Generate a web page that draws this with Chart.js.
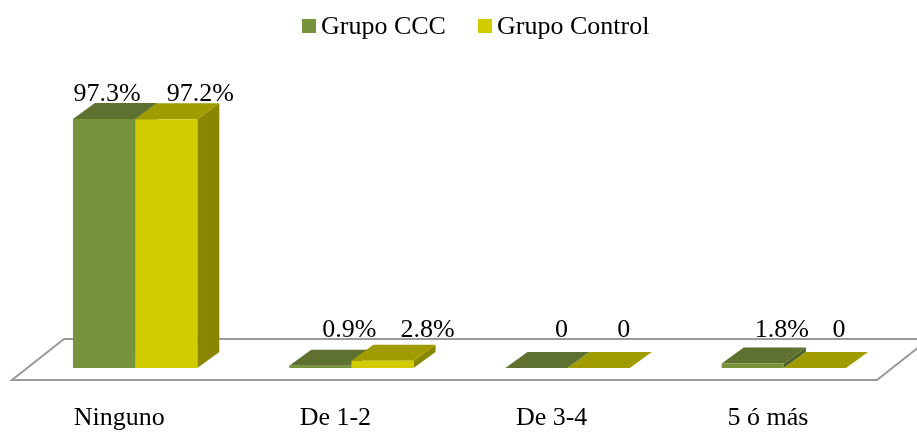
<!DOCTYPE html>
<html>
<head>
<meta charset="utf-8">
<script src="https://cdn.jsdelivr.net/npm/chart.js@4/dist/chart.umd.min.js"></script>
<style>
  html, body { margin: 0; padding: 0; background: #ffffff; }
  #wrap { width: 917px; height: 433px; position: relative; }
</style>
</head>
<body>
<div id="wrap"><canvas id="chart"></canvas></div>
<script>
// Categories and values (percent of each group)
const categories = ['Ninguno', 'De 1-2', 'De 3-4', '5 ó más'];
const grupoCCC = [97.3, 0.9, 0, 1.8];
const grupoControl = [97.2, 2.8, 0, 0];
const seriesNames = ['Grupo CCC', 'Grupo Control'];

const FONT = "'Liberation Serif', 'Times New Roman', serif";

// Face colours for the pseudo-3D columns: front, top, right side
const palette = [
  { front: '#77933C', top: '#5E7131', side: '#4F6228' },
  { front: '#D0CC00', top: '#A09C00', side: '#8A8600' }
];

// Projection of the depth axis (pixels per full column depth)
const DEPTH = { x: 22, y: -16 };
// Floor corners relative to the column baseline plane
const FLOOR_FRONT = { x: -15, y: 12 };
const FLOOR_BACK = { x: 37, y: -29 };
// Horizontal nudges of the value labels, per series and category
const labelShift = [
  [3, 29, 25, 29],
  [34, 45, 25, 24]
];
// Legend key positions (left edge of each colour square)
const legendKeyX = [302, 478];

function fmt(v) {
  return v === 0 ? '0' : v.toFixed(1) + '%';
}

function poly(ctx, pts, fill) {
  ctx.beginPath();
  ctx.moveTo(pts[0][0], pts[0][1]);
  for (let i = 1; i < pts.length; i++) ctx.lineTo(pts[i][0], pts[i][1]);
  ctx.closePath();
  ctx.fillStyle = fill;
  ctx.fill();
}

const threeD = {
  id: 'threeD',
  beforeDatasetsDraw(chart) {
    const ctx = chart.ctx;
    const area = chart.chartArea;
    const y0 = chart.scales.y.getPixelForValue(0);

    // floor outline
    ctx.save();
    ctx.strokeStyle = '#9A9A9A';
    ctx.lineWidth = 2;
    ctx.beginPath();
    ctx.moveTo(area.left + FLOOR_FRONT.x, y0 + FLOOR_FRONT.y);
    ctx.lineTo(area.right + FLOOR_FRONT.x, y0 + FLOOR_FRONT.y);
    ctx.lineTo(area.right + FLOOR_BACK.x, y0 + FLOOR_BACK.y);
    ctx.lineTo(area.left + FLOOR_BACK.x, y0 + FLOOR_BACK.y);
    ctx.closePath();
    ctx.stroke();
    ctx.restore();

    // top and side faces, drawn behind the front faces
    ctx.save();
    const n = chart.data.labels.length;
    for (let i = 0; i < n; i++) {
      chart.data.datasets.forEach((ds, d) => {
        const bar = chart.getDatasetMeta(d).data[i];
        const p = bar.getProps(['x', 'y', 'base', 'width'], true);
        const l = p.x - p.width / 2, r = p.x + p.width / 2;
        const t = p.y, b = p.base;
        const c = palette[d];
        poly(ctx, [[r, t], [r + DEPTH.x, t + DEPTH.y], [r + DEPTH.x, b + DEPTH.y], [r, b]], c.side);
        poly(ctx, [[l, t], [r, t], [r + DEPTH.x, t + DEPTH.y], [l + DEPTH.x, t + DEPTH.y]], c.top);
      });
    }
    ctx.restore();
  },
  afterDatasetsDraw(chart) {
    const ctx = chart.ctx;
    const y0 = chart.scales.y.getPixelForValue(0);
    const limit = y0 + FLOOR_BACK.y - 2;
    ctx.save();
    ctx.font = '26px ' + FONT;
    ctx.fillStyle = '#000000';
    ctx.textAlign = 'center';
    ctx.textBaseline = 'alphabetic';
    chart.data.datasets.forEach((ds, d) => {
      chart.getDatasetMeta(d).data.forEach((bar, i) => {
        const p = bar.getProps(['x', 'y'], true);
        const ty = Math.min(p.y - 18, limit);
        ctx.fillText(fmt(ds.data[i]), p.x + labelShift[d][i], ty);
      });
    });
    ctx.restore();
  },
  afterDraw(chart) {
    // legend row
    const ctx = chart.ctx;
    ctx.save();
    ctx.font = '26px ' + FONT;
    ctx.textBaseline = 'alphabetic';
    ctx.textAlign = 'left';
    chart.data.datasets.forEach((ds, d) => {
      const x = legendKeyX[d];
      ctx.fillStyle = palette[d].front;
      ctx.fillRect(x, 19, 14, 14);
      ctx.fillStyle = '#000000';
      ctx.fillText(ds.label, x + 19, 34);
    });
    ctx.restore();
  }
};

new Chart(document.getElementById('chart'), {
  type: 'bar',
  data: {
    labels: categories,
    datasets: [
      {
        label: seriesNames[0],
        data: grupoCCC,
        backgroundColor: palette[0].front,
        borderWidth: 0,
        barPercentage: 1,
        categoryPercentage: 0.575
      },
      {
        label: seriesNames[1],
        data: grupoControl,
        backgroundColor: palette[1].front,
        borderWidth: 0,
        barPercentage: 1,
        categoryPercentage: 0.575
      }
    ]
  },
  options: {
    responsive: true,
    maintainAspectRatio: false,
    animation: false,
    layout: { padding: { left: 27, right: 25, top: 112, bottom: 0 } },
    plugins: {
      legend: { display: false },
      tooltip: { enabled: false }
    },
    scales: {
      x: {
        grid: { display: false, drawTicks: false },
        border: { display: false },
        ticks: {
          font: { family: FONT, size: 26 },
          color: '#000000',
          padding: 35,
          labelOffset: -16,
          maxRotation: 0,
          autoSkip: false
        },
        afterFit(scale) { scale.height = 65; }
      },
      y: { display: false, min: 0, max: 100 }
    }
  },
  plugins: [threeD]
});
</script>
</body>
</html>
